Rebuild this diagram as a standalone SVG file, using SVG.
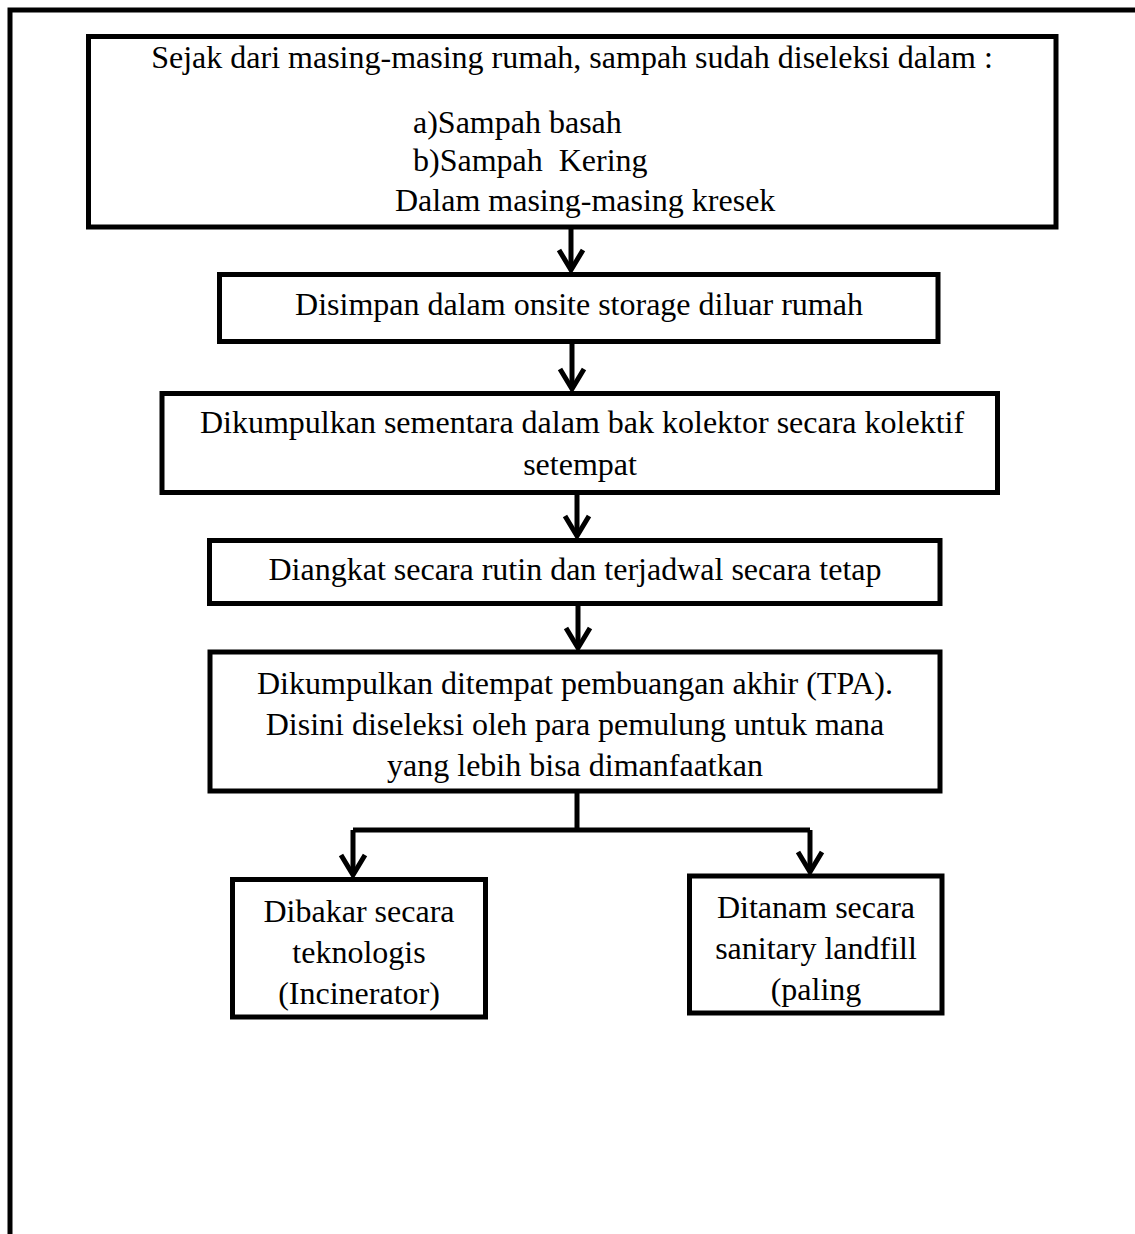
<svg xmlns="http://www.w3.org/2000/svg" width="1135" height="1234" viewBox="0 0 1135 1234">
<style>
.box{fill:#fff;stroke:#000;stroke-width:5}
.t{font-family:"Liberation Serif","Times New Roman",serif;font-size:32px;fill:#000}
.m{text-anchor:middle}
.c{fill:none;stroke:#000;stroke-width:5}
</style>
<defs>
<marker id="ah" markerUnits="userSpaceOnUse" viewBox="-25 -15 30 30" markerWidth="30" markerHeight="30" refX="0" refY="0" orient="auto" overflow="visible">
<path d="M-20,-12 L0,0 L-20,12" fill="none" stroke="#000" stroke-width="5"/>
</marker>
</defs>
<rect width="1135" height="1234" fill="#fff"/>
<g id="frame"><polyline class="c" points="10,1234 10,10 1135,10"/></g>
<g id="connectors">
<line class="c" x1="571" y1="227" x2="571" y2="270" marker-end="url(#ah)"/>
<line class="c" x1="572" y1="341" x2="572" y2="389" marker-end="url(#ah)"/>
<line class="c" x1="577" y1="492" x2="577" y2="536" marker-end="url(#ah)"/>
<line class="c" x1="578" y1="603" x2="578" y2="648" marker-end="url(#ah)"/>
<polyline class="c" points="577,791 577,830"/>
<polyline class="c" points="353,830 810,830"/>
<line class="c" x1="353" y1="830" x2="353" y2="875" marker-end="url(#ah)"/>
<line class="c" x1="810" y1="830" x2="810" y2="872" marker-end="url(#ah)"/>
</g>
<g id="n1">
<rect class="box" x="88.5" y="36.5" width="967.5" height="190.5"/>
<text class="t m" x="572" y="68">Sejak dari masing-masing rumah, sampah sudah diseleksi dalam :</text>
<text class="t" x="413" y="133">a)Sampah basah</text>
<text class="t" x="413" y="171" xml:space="preserve">b)Sampah  Kering</text>
<text class="t" x="395" y="211">Dalam masing-masing kresek</text>
</g>
<g id="n2">
<rect class="box" x="219.5" y="274.5" width="718.5" height="67"/>
<text class="t m" x="579" y="315">Disimpan dalam onsite storage diluar rumah</text>
</g>
<g id="n3">
<rect class="box" x="162" y="393.5" width="835.5" height="99"/>
<text class="t m" x="582" y="433">Dikumpulkan sementara dalam bak kolektor secara kolektif</text>
<text class="t m" x="580" y="475">setempat</text>
</g>
<g id="n4">
<rect class="box" x="209.5" y="540.5" width="730.5" height="63"/>
<text class="t m" x="575" y="580">Diangkat secara rutin dan terjadwal secara tetap</text>
</g>
<g id="n5">
<rect class="box" x="210" y="652" width="730" height="139"/>
<text class="t m" x="575" y="694">Dikumpulkan ditempat pembuangan akhir (TPA).</text>
<text class="t m" x="575" y="735">Disini diseleksi oleh para pemulung untuk mana</text>
<text class="t m" x="575" y="776">yang lebih bisa dimanfaatkan</text>
</g>
<g id="n6">
<rect class="box" x="232.5" y="879.5" width="253" height="137.5"/>
<text class="t m" x="359" y="922">Dibakar secara</text>
<text class="t m" x="359" y="963">teknologis</text>
<text class="t m" x="359" y="1004">(Incinerator)</text>
</g>
<g id="n7">
<rect class="box" x="689.5" y="876" width="252.5" height="137"/>
<text class="t m" x="816" y="918">Ditanam secara</text>
<text class="t m" x="816" y="959">sanitary landfill</text>
<text class="t m" x="816" y="1000">(paling</text>
</g>
</svg>
